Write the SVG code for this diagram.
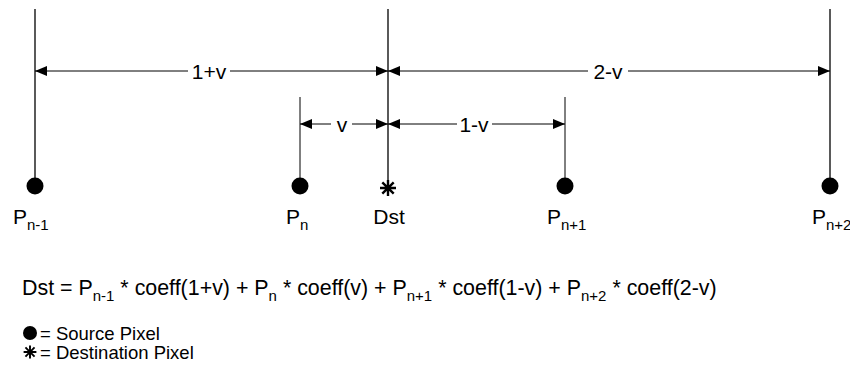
<svg xmlns="http://www.w3.org/2000/svg" width="850" height="366" viewBox="0 0 850 366">
<defs>
<marker id="ah" markerWidth="12" markerHeight="10" refX="12" refY="5" orient="auto-start-reverse" markerUnits="userSpaceOnUse">
<path d="M0,0 L12,5 L0,10 Z" fill="#000"/>
</marker>
<g id="star">
<path d="M0,-8 V8 M-8,0 H8 M-5.7,-5.7 L5.7,5.7 M-5.7,5.7 L5.7,-5.7" stroke="#000" stroke-width="2.4" stroke-linecap="butt" fill="none"/>
</g>
</defs>
<style>
text{font-family:"Liberation Sans",Arial,Helvetica,sans-serif;fill:#000}
.lbl{font-size:21px}
.dim{font-size:21px}
.f{font-size:21.4px}
.sub{font-size:15px}
.leg{font-size:18.5px}
.pole{stroke:#000;stroke-width:1.3;fill:none}
.short{stroke:#000;stroke-width:1;fill:none}
.arr{stroke:#000;stroke-width:1;fill:none;marker-start:url(#ah);marker-end:url(#ah)}
.gap{fill:#fff}
</style>
<rect width="850" height="366" fill="#fff"/>
<g id="connectors">
<line class="arr" x1="35" y1="71" x2="388" y2="71"/>
<line class="arr" x1="388" y1="71" x2="830" y2="71"/>
<line class="arr" x1="300" y1="124" x2="388" y2="124"/>
<line class="arr" x1="388" y1="124" x2="565" y2="124"/>
<rect class="gap" x="188" y="62" width="42" height="18"/>
<rect class="gap" x="588" y="62" width="40" height="18"/>
<rect class="gap" x="331" y="115" width="21" height="18"/>
<rect class="gap" x="457" y="115" width="35" height="18"/>
<text class="dim" x="209" y="78.5" text-anchor="middle">1+v</text>
<text class="dim" x="608" y="78.5" text-anchor="middle">2-v</text>
<text class="dim" x="342" y="131.5" text-anchor="middle">v</text>
<text class="dim" x="474" y="131.5" text-anchor="middle">1-v</text>
</g>
<g id="p_n_minus_1">
<line class="pole" x1="35" y1="9" x2="35" y2="186"/>
<circle cx="35" cy="186" r="8.5" fill="#000"/>
<text class="lbl" x="13" y="224">P<tspan class="sub" dy="6">n-1</tspan></text>
</g>
<g id="p_n">
<line class="short" x1="300" y1="97" x2="300" y2="186"/>
<circle cx="300" cy="186" r="8.5" fill="#000"/>
<text class="lbl" x="286" y="224">P<tspan class="sub" dy="6">n</tspan></text>
</g>
<g id="dst">
<line class="pole" x1="388" y1="9" x2="388" y2="181"/>
<use href="#star" x="388" y="188"/>
<text class="lbl" x="389" y="224" text-anchor="middle">Dst</text>
</g>
<g id="p_n_plus_1">
<line class="short" x1="565" y1="97" x2="565" y2="186"/>
<circle cx="565" cy="186" r="8.5" fill="#000"/>
<text class="lbl" x="547" y="224">P<tspan class="sub" dy="6">n+1</tspan></text>
</g>
<g id="p_n_plus_2">
<line class="pole" x1="830" y1="9" x2="830" y2="186"/>
<circle cx="830" cy="186" r="8.5" fill="#000"/>
<text class="lbl" x="812" y="224">P<tspan class="sub" dy="6">n+2</tspan></text>
</g>
<g id="formula">
<text class="f" x="22" y="295">Dst = P<tspan class="sub" dy="6">n-1</tspan><tspan dy="-6"> * coeff(1+v) + P</tspan><tspan class="sub" dy="6">n</tspan><tspan dy="-6"> * coeff(v) + P</tspan><tspan class="sub" dy="6">n+1</tspan><tspan dy="-6"> * coeff(1-v) + P</tspan><tspan class="sub" dy="6">n+2</tspan><tspan dy="-6"> * coeff(2-v)</tspan></text>
</g>
<g id="legend">
<circle cx="30" cy="333" r="7" fill="#000"/>
<text class="leg" x="40" y="339.5">= Source Pixel</text>
<use href="#star" transform="translate(30,352) scale(0.8)"/>
<text class="leg" x="40" y="358.5">= Destination Pixel</text>
</g>
</svg>
